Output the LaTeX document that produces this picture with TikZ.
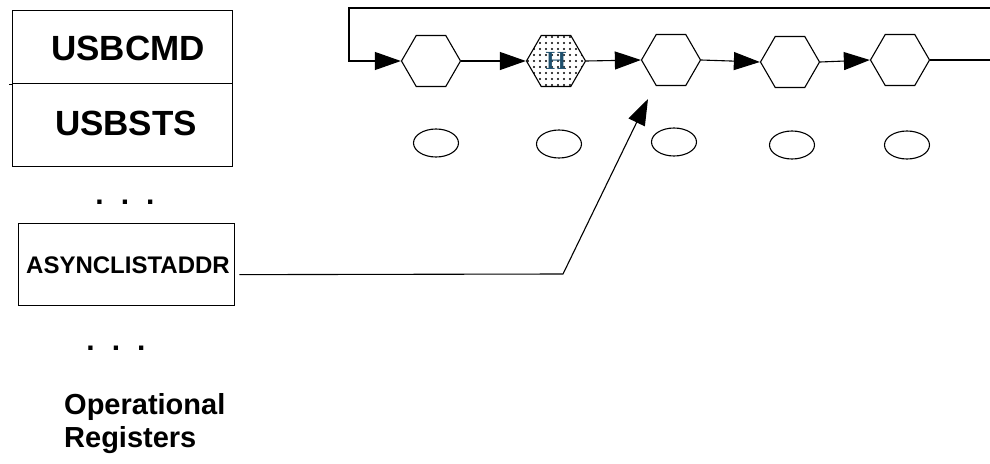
\documentclass[tikz,border=0pt]{standalone}
\usepackage{fontspec}
\newfontfamily\arialfont{Liberation Sans}
\usetikzlibrary{shapes.geometric,arrows.meta,patterns.meta}
\definecolor{hcol}{RGB}{30,80,110}
\begin{document}
\begin{tikzpicture}[x=1pt,y=-1pt,
  regbox/.style={draw,line width=1.3pt,inner sep=0pt,anchor=north west},
  hexnode/.style={draw,line width=1.1pt,regular polygon,regular polygon sides=6,minimum size=59pt,inner sep=0pt},
  ovnode/.style={draw,line width=1.1pt,ellipse,minimum width=45pt,minimum height=28pt,inner sep=0pt},
  conn/.style={line width=1.1pt},
  arr/.style={line width=1.1pt,-{Triangle[length=26pt,width=18pt]}},
  bigtxt/.style={font=\arialfont\bfseries\fontsize{35}{36}\selectfont},
  midtxt/.style={font=\arialfont\bfseries\fontsize{24}{26}\selectfont},
  labtxt/.style={font=\arialfont\bfseries\fontsize{29}{33}\selectfont,align=left},
  dottxt/.style={font=\arialfont\bfseries\fontsize{30}{30}\selectfont}
]
\useasboundingbox (0,0) rectangle (990,463);
% registers
\node[regbox,minimum width=220pt,minimum height=73pt] (cmd) at (12,10) {};
\node[bigtxt] (cmdt) at (128,48) {USBCMD};
\node[regbox,minimum width=220pt,minimum height=83pt] (sts) at (12,83) {};
\node[bigtxt] (stst) at (126,123) {USBSTS};
\draw[line width=1.3pt] (cmd.south west) -- ++(-3,0);
\node[dottxt] (dots1) at (125,202) {.\hspace{17pt}.\hspace{17pt}.};
\node[regbox,minimum width=216pt,minimum height=82pt] (async) at (18,223) {};
\node[midtxt] (asynct) at (128,265) {ASYNCLISTADDR};
\node[dottxt] (dots2) at (116,348) {.\hspace{17pt}.\hspace{17pt}.};
\node[labtxt,anchor=north west,inner sep=0pt] (oplab) at (64,393) {Operational\\Registers};
% queue heads
\node[hexnode] (h1) at (431,61) {};
\node[hexnode,pattern={Dots[distance=6pt,radius=1.1pt]}] (h2) at (556,61) {};
\node[text=hcol,font=\bfseries\fontsize{25}{25}\selectfont] (htxt) at (556,61) {H};
\node[hexnode] (h3) at (671,60) {};
\node[hexnode] (h4) at (790,62) {};
\node[hexnode] (h5) at (900,60) {};
% ellipses
\node[ovnode] (e1) at (436,143) {};
\node[ovnode] (e2) at (559,144) {};
\node[ovnode] (e3) at (674,142) {};
\node[ovnode] (e4) at (792,145) {};
\node[ovnode] (e5) at (907,145) {};
% connectors
\coordinate (loopR) at (990,8);
\coordinate (loopL) at (349,8);
\coordinate (outR) at (990,60);
\draw[arr] (loopR) -- (loopL) |- (h1.west);
\draw[arr] (h1.east) -- (h2.west);
\draw[arr] (h2.east) -- (h3.west);
\draw[arr] (h3.east) -- (h4.west);
\draw[arr] (h4.east) -- (h5.west);
\draw[conn] (h5.east) -- (outR);
\coordinate (bend) at (563,274);
\coordinate (tip) at (648,99);
\draw[arr,shorten <=4pt] ([yshift=-10pt]async.east) -- (bend) -- (tip);
\end{tikzpicture}
\end{document}
